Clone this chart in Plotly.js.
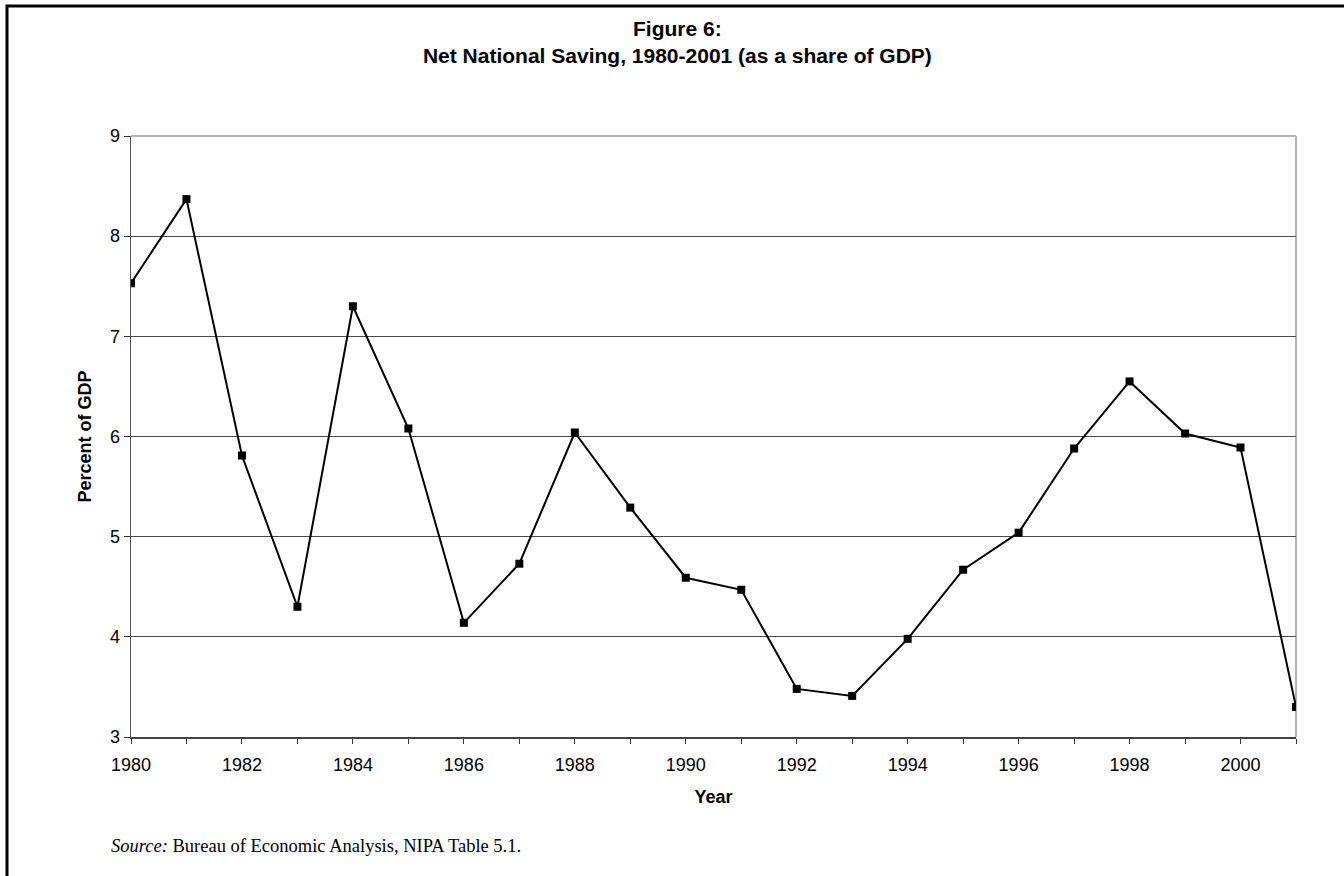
<!DOCTYPE html>
<html>
<head>
<meta charset="utf-8">
<script src="https://cdn.plot.ly/plotly-3.0.1.min.js"></script>
<style>
  html, body { margin: 0; padding: 0; background: #fff; }
  #chart { width: 1344px; height: 876px; }
</style>
</head>
<body>
<div id="chart"></div>
<script>
// Data
const years = [1980, 1981, 1982, 1983, 1984, 1985, 1986, 1987, 1988, 1989, 1990,
               1991, 1992, 1993, 1994, 1995, 1996, 1997, 1998, 1999, 2000, 2001];
const netSaving = [7.53, 8.37, 5.81, 4.30, 7.30, 6.08, 4.14, 4.73, 6.04, 5.29, 4.59,
                   4.47, 3.48, 3.41, 3.98, 4.67, 5.04, 5.88, 6.55, 6.03, 5.89, 3.30];

const titleText = 'Figure 6:<br>Net National Saving, 1980-2001 (as a share of GDP)';
const xTitle = 'Year';
const yTitle = 'Percent of GDP';
const sourceText = '<i>Source:</i> Bureau of Economic Analysis, NIPA Table 5.1.';

const trace = {
  x: years,
  y: netSaving,
  type: 'scatter',
  mode: 'lines+markers',
  line: { color: '#000', width: 2 },
  marker: { symbol: 'square', size: 8, color: '#000' },
  hoverinfo: 'x+y',
  showlegend: false
};

const layout = {
  width: 1344,
  height: 876,
  paper_bgcolor: '#fff',
  plot_bgcolor: '#fff',
  margin: { l: 131, r: 48, t: 136, b: 139, pad: 0 },
  font: { family: '"Liberation Sans", Arial, sans-serif', color: '#000', size: 18 },
  title: {
    text: titleText,
    font: { family: '"Liberation Sans", Arial, sans-serif', size: 21, weight: 'bold', color: '#000' },
    x: 0.504, xref: 'container', xanchor: 'center',
    y: 1 - 36 / 876, yref: 'container', yanchor: 'top'
  },
  xaxis: {
    range: [1980, 2001],
    dtick: 2, tick0: 1980,
    ticks: 'outside', ticklen: 5, tickwidth: 1, tickcolor: '#333',
    ticklabelstandoff: 5,
    minor: { dtick: 1, ticks: 'outside', ticklen: 5, tickwidth: 1, tickcolor: '#333', showgrid: false },
    showgrid: false, zeroline: false,
    showline: true, linecolor: '#444', linewidth: 2,
    tickfont: { size: 18 },
    title: { text: xTitle, font: { size: 18, weight: 'bold' }, standoff: 17 }
  },
  yaxis: {
    range: [3, 9],
    dtick: 1, tick0: 3,
    ticks: 'outside', ticklen: 6, tickwidth: 1, tickcolor: '#333',
    showgrid: true, gridcolor: '#4a4a4a', gridwidth: 1,
    zeroline: false,
    showline: true, linecolor: '#555', linewidth: 1.5,
    tickfont: { size: 18 },
    title: { text: yTitle, font: { size: 18, weight: 'bold' }, standoff: 13 }
  },
  shapes: [
    // light gray plot-area border (top and right)
    { type: 'line', xref: 'paper', yref: 'paper', x0: 0, x1: 1, y0: 1, y1: 1,
      line: { color: '#b4b4b4', width: 2 }, layer: 'above' },
    { type: 'line', xref: 'paper', yref: 'paper', x0: 1, x1: 1, y0: 0, y1: 1,
      line: { color: '#b4b4b4', width: 2 }, layer: 'below' },
    // black outer frame (extends beyond the right and bottom edges)
    { type: 'rect', xref: 'paper', yref: 'paper',
      x0: (7 - 131) / 1165, x1: 1.3, y0: -0.4, y1: (737 - 6) / 601,
      line: { color: '#000', width: 3 }, fillcolor: 'rgba(0,0,0,0)', layer: 'above' }
  ],
  annotations: [
    { text: sourceText, xref: 'paper', yref: 'paper',
      x: (109 - 131) / 1165, xanchor: 'left',
      y: (737 - 846) / 601, yanchor: 'middle',
      showarrow: false,
      font: { family: '"Liberation Serif", "Times New Roman", serif', size: 18.5, color: '#000' } }
  ]
};

Plotly.newPlot('chart', [trace], layout, { displayModeBar: false, staticPlot: true });
</script>
</body>
</html>
